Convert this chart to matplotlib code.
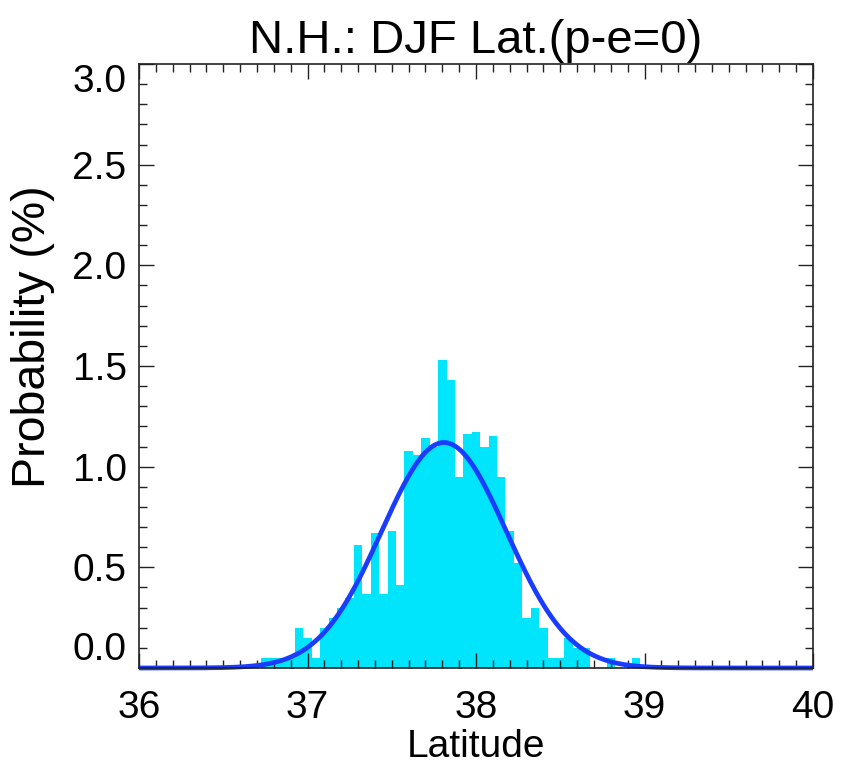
import matplotlib.pyplot as plt
import numpy as np
from matplotlib.ticker import MultipleLocator

# histogram of DJF latitude where p-e=0 (bin width 0.05 deg)
lat_bins = [36.75, 36.80, 36.85, 36.90, 36.95, 37.00, 37.05, 37.10, 37.15, 37.20,
            37.25, 37.30, 37.35, 37.40, 37.45, 37.50, 37.55, 37.60, 37.65, 37.70,
            37.75, 37.80, 37.85, 37.90, 37.95, 38.00, 38.05, 38.10, 38.15, 38.20,
            38.25, 38.30, 38.35, 38.40, 38.45, 38.50, 38.55, 38.60, 38.65, 38.70,
            38.75, 38.80, 38.85, 38.90, 38.95]
prob = [0.05, 0.05, 0.05, 0.05, 0.20, 0.15, 0.05, 0.20, 0.25, 0.30,
        0.35, 0.61, 0.37, 0.67, 0.37, 0.68, 0.41, 1.08, 1.06, 1.14,
        1.10, 1.53, 1.43, 0.95, 1.16, 1.17, 1.10, 1.15, 0.95, 0.68,
        0.52, 0.25, 0.30, 0.20, 0.05, 0.05, 0.15, 0.10, 0.10, 0.0,
        0.0, 0.05, 0.0, 0.0, 0.05]
bin_width = 0.05

# gaussian fit
fit_mean = 37.81
fit_sigma = 0.37
fit_peak = 1.12

y_ticks = [0.0, 0.5, 1.0, 1.5, 2.0, 2.5, 3.0]

plt.rcParams['font.family'] = ['Liberation Sans', 'DejaVu Sans']

fig = plt.figure(figsize=(8.48, 7.64), dpi=100)
ax = fig.add_axes([139 / 848, 1 - 668 / 764, (813 - 139) / 848, (668 - 64) / 764])

ax.bar(lat_bins, prob, width=bin_width, color='#00e4fc', linewidth=0, zorder=1)

xs = np.linspace(36, 40, 801)
fit = fit_peak * np.exp(-(xs - fit_mean) ** 2 / (2 * fit_sigma ** 2))
ax.plot(xs, fit, color='#1a3cff', linewidth=3.4, zorder=3, clip_on=False,
        solid_capstyle='butt')

ax.set_xlim(36, 40)
ax.set_ylim(0, 3.0)
ax.xaxis.set_major_locator(MultipleLocator(1))
ax.xaxis.set_minor_locator(MultipleLocator(0.1))
ax.set_yticks(y_ticks)
ax.set_yticklabels([f'{v:.1f}' for v in y_ticks])
ax.yaxis.set_minor_locator(MultipleLocator(0.1))

ax.tick_params(which='both', direction='in', top=True, right=True,
               color='#222222', width=1.0, labelsize=28)
ax.tick_params(which='major', length=11)
ax.tick_params(which='minor', length=6)
ax.tick_params(axis='x', which='major', pad=16)
ax.tick_params(axis='y', which='major', pad=9)
for sp in ax.spines.values():
    sp.set_linewidth(1.2)
    sp.set_color('#222222')
    sp.set_zorder(4)

# end labels kept inside the axis span, like the original
ylabels = ax.get_yticklabels()
ylabels[0].set_va('bottom')
ylabels[-1].set_va('top')

ax.set_xlabel('Latitude', fontsize=28, labelpad=2)
ax.set_ylabel('Probability (%)', fontsize=33.5)
ax.yaxis.set_label_coords(-0.125, 0.548)
ax.set_title('N.H.: DJF Lat.(p-e=0)', fontsize=34, pad=8)

fig.savefig('out.png', dpi=100)
